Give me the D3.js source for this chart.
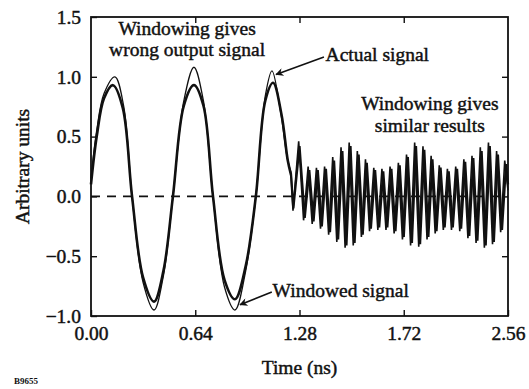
<!DOCTYPE html>
<html>
<head>
<meta charset="utf-8">
<script src="https://cdn.jsdelivr.net/npm/d3@7"></script>
<style>
  html, body { margin: 0; padding: 0; background: #fff; }
  svg text { font-family: "Liberation Serif", "Times New Roman", serif; fill: #111; }
</style>
</head>
<body>
<svg id="chart" width="529" height="389"></svg>
<script>
// Low-frequency part of the actual signal (time in ns, amplitude in arbitrary units)
const actualTimes  = [0.000, 0.035, 0.080, 0.147, 0.200, 0.252, 0.320, 0.387, 0.445, 0.503,
                      0.570, 0.632, 0.690, 0.749, 0.820, 0.884, 0.950, 1.012, 1.070, 1.111,
                      1.165, 1.205, 1.228];
const actualValues = [0.15, 0.55, 0.86, 1.00, 0.76, 0.00, -0.72, -0.95, -0.66, 0.00,
                      0.80, 1.08, 0.80, 0.00, -0.76, -0.95, -0.62, 0.00, 0.84, 1.05,
                      0.70, 0.32, 0.20];

// High-frequency tail of the actual signal
const actualHfTimes  = [1.228, 1.240, 1.275, 1.305, 1.333, 1.358, 1.384, 1.409, 1.434, 1.459,
                        1.484, 1.509, 1.535, 1.560, 1.585, 1.610, 1.635, 1.660, 1.685, 1.710,
                        1.736, 1.761, 1.786, 1.811, 1.836, 1.861, 1.887, 1.912, 1.937, 1.962,
                        1.987, 2.012, 2.038, 2.063, 2.088, 2.113, 2.138, 2.163, 2.188, 2.213,
                        2.239, 2.264, 2.289, 2.314, 2.339, 2.364, 2.390, 2.415, 2.440, 2.465,
                        2.490, 2.515, 2.540, 2.560];
const actualHfValues = [0.20, -0.12, 0.46, -0.20, 0.25, -0.23, 0.24, -0.27, 0.25, -0.32,
                        0.33, -0.38, 0.41, -0.43, 0.45, -0.41, 0.38, -0.34, 0.31, -0.29,
                        0.24, -0.28, 0.23, -0.28, 0.25, -0.31, 0.28, -0.36, 0.35, -0.41,
                        0.45, -0.42, 0.42, -0.36, 0.34, -0.31, 0.26, -0.28, 0.23, -0.28,
                        0.25, -0.29, 0.31, -0.35, 0.34, -0.39, 0.41, -0.43, 0.45, -0.40,
                        0.38, -0.30, 0.30, 0.05];

// Low-frequency part of the windowed signal
const windowedTimes  = [0.000, 0.035, 0.080, 0.135, 0.195, 0.252, 0.320, 0.387, 0.445, 0.503,
                        0.570, 0.632, 0.690, 0.749, 0.820, 0.884, 0.950, 1.012, 1.070, 1.118,
                        1.170, 1.208, 1.228];
const windowedValues = [0.10, 0.50, 0.82, 0.93, 0.74, 0.00, -0.68, -0.88, -0.62, 0.00,
                        0.76, 0.93, 0.76, 0.00, -0.70, -0.86, -0.58, 0.00, 0.80, 0.95,
                        0.68, 0.30, 0.18];

// High-frequency tail of the windowed signal
const windowedHfTimes  = [1.228, 1.242, 1.280, 1.312, 1.340, 1.366, 1.392, 1.417, 1.442, 1.467,
                          1.492, 1.517, 1.543, 1.568, 1.593, 1.618, 1.643, 1.668, 1.693, 1.718,
                          1.744, 1.769, 1.794, 1.819, 1.844, 1.869, 1.895, 1.920, 1.945, 1.970,
                          1.995, 2.020, 2.046, 2.071, 2.096, 2.121, 2.146, 2.171, 2.196, 2.221,
                          2.247, 2.272, 2.297, 2.322, 2.347, 2.372, 2.398, 2.423, 2.448, 2.473,
                          2.498, 2.523, 2.548, 2.560];
const windowedHfValues = [0.18, -0.10, 0.42, -0.18, 0.22, -0.21, 0.22, -0.25, 0.23, -0.30,
                          0.30, -0.36, 0.38, -0.41, 0.42, -0.39, 0.35, -0.32, 0.28, -0.27,
                          0.22, -0.26, 0.21, -0.26, 0.23, -0.29, 0.26, -0.34, 0.33, -0.39,
                          0.42, -0.40, 0.39, -0.34, 0.31, -0.29, 0.24, -0.26, 0.21, -0.26,
                          0.23, -0.27, 0.29, -0.33, 0.32, -0.37, 0.38, -0.41, 0.42, -0.38,
                          0.35, -0.28, 0.27, 0.10];

// Axis ticks
const xTickValues = [0.00, 0.64, 1.28, 1.92, 2.56];
const xTickLabels = ["0.00", "0.64", "1.28", "1.72", "2.56"];
const yTickValues = [-1.0, -0.5, 0.0, 0.5, 1.0, 1.5];
const yTickLabels = ["\u22121.0", "\u22120.5", "0.0", "0.5", "1.0", "1.5"];

const svg = d3.select("#chart");
const pLeft = 91, pRight = 508, pTop = 17, pBottom = 316;

const x = d3.scaleLinear().domain([0, 2.56]).range([pLeft, pRight]);
const y = d3.scaleLinear().domain([-1.0, 1.5]).range([pBottom, pTop]);

// arrowhead
svg.append("defs").append("marker")
  .attr("id", "arrow")
  .attr("viewBox", "0 0 10 10")
  .attr("refX", 9).attr("refY", 5)
  .attr("markerWidth", 10).attr("markerHeight", 8)
  .attr("markerUnits", "userSpaceOnUse")
  .attr("orient", "auto")
  .append("path").attr("d", "M0,0 L10,5 L0,10 L3,5 Z").attr("fill", "#111");

// zero reference line
svg.append("line")
  .attr("x1", x(0)).attr("x2", x(2.56))
  .attr("y1", y(0)).attr("y2", y(0))
  .attr("stroke", "#111").attr("stroke-width", 1.8)
  .attr("stroke-dasharray", "9,7");

const toPts = (ts, vs) => ts.map((t, i) => [t, vs[i]]);
const smooth = d3.line().x(d => x(d[0])).y(d => y(d[1])).curve(d3.curveCatmullRom.alpha(0.5));
const sharp = d3.line().x(d => x(d[0])).y(d => y(d[1]));

const plot = svg.append("g").attr("fill", "none").attr("stroke", "#111");
// windowed signal (heavy line)
plot.append("path").attr("d", smooth(toPts(windowedTimes, windowedValues)))
  .attr("stroke-width", 2.6);
plot.append("path").attr("d", sharp(toPts(windowedHfTimes, windowedHfValues)))
  .attr("stroke-width", 2.3);
// actual signal (light line)
plot.append("path").attr("d", smooth(toPts(actualTimes, actualValues)))
  .attr("stroke-width", 1.3);
plot.append("path").attr("d", sharp(toPts(actualHfTimes, actualHfValues)))
  .attr("stroke-width", 1.6);

// axes with inward ticks
const fontSize = "19.5px";
svg.append("g").attr("transform", `translate(0,${pBottom})`)
  .call(d3.axisBottom(x).tickValues(xTickValues).tickFormat((d, i) => xTickLabels[i])
    .tickSizeInner(-6).tickSizeOuter(0).tickPadding(10));
svg.append("g").attr("transform", `translate(${pLeft},0)`)
  .call(d3.axisLeft(y).tickValues(yTickValues).tickFormat((d, i) => yTickLabels[i])
    .tickSizeInner(-6).tickSizeOuter(0).tickPadding(10));
svg.append("g").attr("transform", `translate(0,${pTop})`)
  .call(d3.axisTop(x).tickValues(xTickValues.slice(1, -1)).tickFormat("")
    .tickSizeInner(-6).tickSizeOuter(0));
svg.append("g").attr("transform", `translate(${pRight},0)`)
  .call(d3.axisRight(y).tickValues(yTickValues.slice(1, -1)).tickFormat("")
    .tickSizeInner(-6).tickSizeOuter(0));

svg.selectAll(".domain").remove();
svg.selectAll(".tick line").attr("stroke", "#111").attr("stroke-width", 1.4);
svg.selectAll(".tick text").style("font-size", fontSize).attr("fill", "#111")
  .attr("stroke", "#111").attr("stroke-width", 0.45);

// frame
svg.append("rect")
  .attr("x", pLeft).attr("y", pTop)
  .attr("width", pRight - pLeft).attr("height", pBottom - pTop)
  .attr("fill", "none").attr("stroke", "#111").attr("stroke-width", 1.8);

// axis titles
svg.append("text")
  .attr("x", x(1.28)).attr("y", 374)
  .attr("text-anchor", "middle").style("font-size", fontSize)
  .attr("stroke", "#111").attr("stroke-width", 0.45)
  .text("Time (ns)");
svg.append("text")
  .attr("transform", `translate(29,${(pTop + pBottom) / 2}) rotate(-90)`)
  .attr("text-anchor", "middle").style("font-size", fontSize)
  .attr("stroke", "#111").attr("stroke-width", 0.45)
  .text("Arbitrary units");

// annotations
function note(lines, tx, ty, anchor, dy) {
  const t = svg.append("text")
    .attr("text-anchor", anchor).style("font-size", fontSize)
    .attr("stroke", "#111").attr("stroke-width", 0.45);
  lines.forEach((s, i) => t.append("tspan").attr("x", x(tx)).attr("y", y(ty) + i * dy).text(s));
}
note(["Windowing gives", "wrong output signal"], 0.59, 1.35, "middle", 21);
note(["Windowing gives", "similar results"], 2.08, 0.72, "middle", 22);
note(["Actual signal"], 1.44, 1.13, "start", 0);
note(["Windowed signal"], 1.115, -0.845, "start", 0);

svg.append("line")
  .attr("x1", x(1.43)).attr("y1", y(1.165))
  .attr("x2", x(1.136)).attr("y2", y(1.02))
  .attr("stroke", "#111").attr("stroke-width", 1.6)
  .attr("marker-end", "url(#arrow)");
svg.append("line")
  .attr("x1", x(1.11)).attr("y1", y(-0.80))
  .attr("x2", x(0.915)).attr("y2", y(-0.905))
  .attr("stroke", "#111").attr("stroke-width", 1.6)
  .attr("marker-end", "url(#arrow)");

// figure id
svg.append("text")
  .attr("x", 14).attr("y", 384)
  .style("font-size", "9px").style("font-weight", "bold")
  .text("B9655");
</script>
</body>
</html>
